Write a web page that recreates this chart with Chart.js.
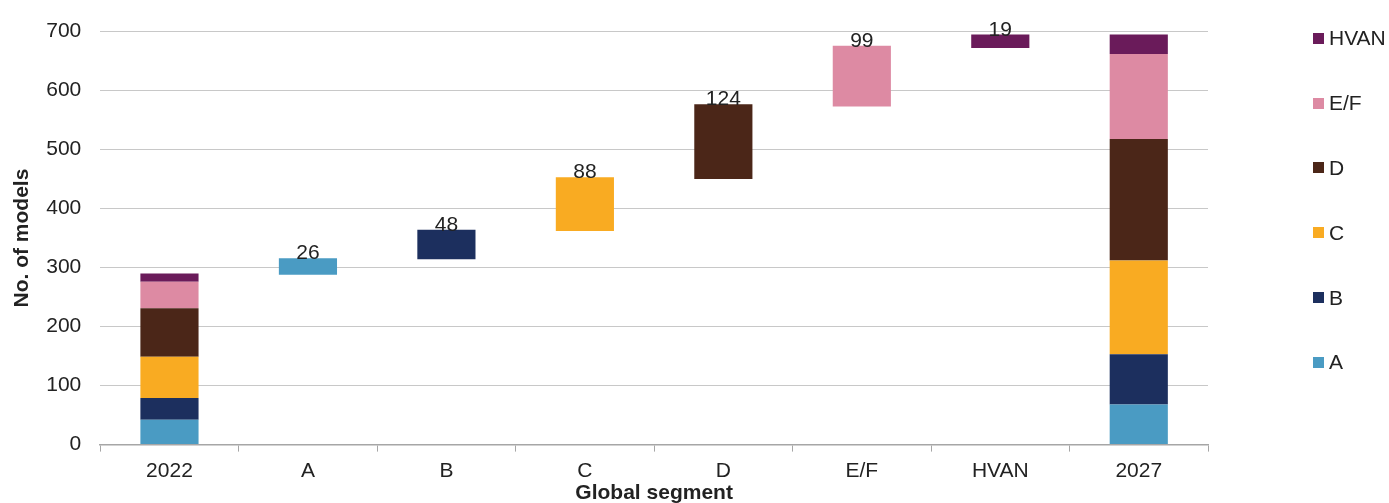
<!DOCTYPE html>
<html>
<head>
<meta charset="utf-8">
<script src="https://cdn.jsdelivr.net/npm/chart.js@4.4.1/dist/chart.umd.min.js"></script>
<style>
    html, body { margin: 0; padding: 0; background: #fff; overflow: hidden; }
    #wrap { position: relative; width: 1389px; height: 508px; }
    #legend { position: absolute; left: 1313px; top: 6px; font-family: "Liberation Sans", Arial, sans-serif; font-size: 21px; color: #222; }
    .leg-item { height: 64.8px; display: flex; align-items: center; }
    .leg-box { width: 11px; height: 11px; margin-right: 5px; }
</style>
</head>
<body>
<div id="wrap">
    <canvas id="waterfall"></canvas>
    <div id="legend"></div>
</div>
<script>
// --- DATA ---
const categories = ['2022', 'A', 'B', 'C', 'D', 'E/F', 'HVAN', '2027'];
const segments = ['A', 'B', 'C', 'D', 'E/F', 'HVAN'];
const segmentColors = ['#4a9bc3', '#1c2f5e', '#f9ab22', '#4b2618', '#dd8aa3', '#6a1b5a'];
const models2022 = [42, 37, 70, 82, 45, 14];
const models2027 = [68, 85, 159, 206, 144, 33];
const stepLow = [288, 314, 362, 450, 573, 672];
const stepHigh = [316, 364, 453, 577, 676, 695];
const stepLabels = [26, 48, 88, 124, 99, 19];
const yTicks = [0, 100, 200, 300, 400, 500, 600, 700];

const FONT = '"Liberation Sans", Arial, sans-serif';
const TEXT = '#222';

// one dataset per segment: 2022 stack, own floating step, 2027 stack
const datasets = segments.map((seg, i) => {
    const data = categories.map(() => null);
    data[0] = models2022[i];
    data[i + 1] = [stepLow[i], stepHigh[i]];
    data[categories.length - 1] = models2027[i];
    return {
        label: seg,
        data: data,
        backgroundColor: segmentColors[i],
        borderWidth: 0,
        barPercentage: 0.42,
        categoryPercentage: 1
    };
});

// --- step value labels above floating bars ---
const stepLabelPlugin = {
    id: 'stepLabels',
    afterDatasetsDraw(chart) {
        const ctx = chart.ctx;
        ctx.save();
        ctx.font = '21px ' + FONT;
        ctx.fillStyle = TEXT;
        ctx.textAlign = 'center';
        ctx.textBaseline = 'alphabetic';
        segments.forEach((seg, i) => {
            const bar = chart.getDatasetMeta(i).data[i + 1];
            if (!bar) return;
            ctx.fillText(String(stepLabels[i]), bar.x, bar.y + 1);
        });
        ctx.restore();
    }
};

new Chart(document.getElementById('waterfall'), {
    type: 'bar',
    data: { labels: categories, datasets: datasets },
    plugins: [stepLabelPlugin],
    options: {
        responsive: true,
        maintainAspectRatio: false,
        animation: false,
        layout: { padding: { top: 31, right: 181, left: 0, bottom: 0 } },
        plugins: {
            legend: { display: false },
            tooltip: { enabled: false }
        },
        scales: {
            x: {
                stacked: true,
                grid: { display: true, drawOnChartArea: false, drawTicks: true, tickLength: 7, color: '#a6a6a6' },
                border: { display: true, color: '#a6a6a6', width: 1.5 },
                ticks: { font: { family: FONT, size: 21 }, color: TEXT, padding: 7 },
                title: {
                    display: true, text: 'Global segment',
                    font: { family: FONT, size: 21, weight: 'bold' }, color: TEXT,
                    padding: { top: -10, bottom: 2 }
                }
            },
            y: {
                stacked: true,
                min: 0,
                max: 700,
                afterBuildTicks: (scale) => { scale.ticks = yTicks.map(v => ({ value: v })); },
                grid: { color: '#c8c8c8', drawTicks: false },
                border: { display: false },
                ticks: { font: { family: FONT, size: 21 }, color: TEXT, padding: 19 },
                title: {
                    display: true, text: 'No. of models',
                    font: { family: FONT, size: 21, weight: 'bold' }, color: TEXT,
                    padding: { top: 10, bottom: -8 }
                }
            }
        }
    }
});

// --- legend (top item = last segment) ---
const legendEl = document.getElementById('legend');
segments.slice().reverse().forEach((seg) => {
    const idx = segments.indexOf(seg);
    const item = document.createElement('div');
    item.className = 'leg-item';
    item.innerHTML = `<div class="leg-box" style="background:${segmentColors[idx]}"></div><span>${seg}</span>`;
    legendEl.appendChild(item);
});
</script>
</body>
</html>
